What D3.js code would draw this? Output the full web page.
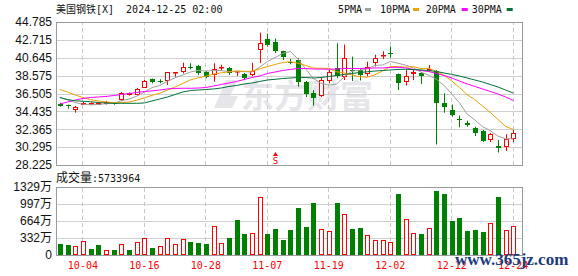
<!DOCTYPE html>
<html>
<head>
<meta charset="utf-8">
<script src="https://cdn.jsdelivr.net/npm/d3@7"></script>
<style>
  html, body { margin: 0; padding: 0; background: #fff; }
  svg { display: block; }
</style>
</head>
<body>
<div id="chart"></div>
<script>
// ---- data ----
const dates = ['10-01','10-02','10-03','10-04','10-07','10-08','10-09','10-10','10-11','10-14',
  '10-15','10-16','10-17','10-18','10-21','10-22','10-23','10-24','10-25','10-28',
  '10-29','10-30','10-31','11-01','11-04','11-05','11-06','11-07','11-08','11-11',
  '11-12','11-13','11-14','11-15','11-18','11-19','11-20','11-21','11-22','11-25',
  '11-26','11-27','11-29','12-02','12-03','12-04','12-05','12-06','12-09','12-10',
  '12-11','12-12','12-13','12-16','12-17','12-18','12-19','12-20','12-23','12-24'];

const openP = [35.29,35.17,34.59,35.23,35.31,35.23,35.29,35.41,35.72,36.33,
  36.33,37.18,38.18,37.95,37.99,38.84,39.03,39.63,39.69,39.03,
  38.65,39.43,39.49,38.99,38.80,38.65,41.60,42.82,42.47,41.43,
  40.21,40.38,37.87,36.56,36.18,37.99,39.42,38.42,39.23,39.23,
  38.80,40.00,40.81,41.25,38.76,37.87,38.71,38.91,39.31,39.11,
  35.46,34.59,33.52,33.12,32.51,32.16,31.12,30.37,30.28,31.24];
const highP = [35.44,35.23,35.06,35.52,35.49,35.49,35.64,35.52,36.68,36.62,
  37.14,38.07,38.24,38.15,38.99,38.99,40.07,40.00,39.81,39.11,
  40.00,39.84,39.57,39.11,38.88,40.07,43.55,43.43,42.87,41.46,
  40.50,40.58,37.95,36.91,38.30,39.23,42.32,42.18,40.77,39.34,
  40.19,41.00,41.39,41.95,38.82,39.28,39.23,38.99,39.80,39.23,
  36.53,35.23,33.96,33.36,32.66,32.28,31.93,31.12,31.78,32.28];
const lowP = [34.98,34.75,34.28,35.17,35.23,35.17,35.23,35.21,35.64,36.27,
  36.27,37.14,37.68,37.68,37.49,38.45,38.84,39.31,38.65,38.27,
  37.87,39.15,38.65,38.53,38.07,38.53,40.04,41.93,41.20,40.38,
  39.89,37.29,36.10,35.09,36.10,37.68,38.27,38.07,37.95,38.01,
  38.50,39.63,40.50,40.67,36.91,37.43,38.07,37.60,38.99,30.60,
  34.28,33.82,32.59,32.66,31.58,30.89,30.89,29.67,29.85,30.89];
const closeP = [35.06,35.12,34.98,35.35,35.41,35.35,35.56,35.29,36.62,36.51,
  36.97,37.95,37.89,37.92,38.94,38.99,39.54,39.57,38.91,38.45,
  39.34,39.52,38.91,39.11,38.33,39.08,42.35,42.12,41.45,40.77,
  40.15,37.87,36.41,35.93,38.07,39.03,38.53,40.62,39.17,38.68,
  39.63,40.62,40.93,41.20,37.72,38.53,38.96,38.53,39.34,35.37,
  34.98,33.98,33.44,32.83,31.97,31.06,31.76,30.25,31.24,31.93];

// volume in 万 shares, and its colour (1 = red / up, 0 = green / down)
const volume = [214,194,169,272,117,194,91,97,207,97,
  253,324,136,169,324,214,305,253,233,214,
  558,227,330,681,408,421,1141,408,506,292,
  486,914,545,1011,499,460,1011,797,506,525,
  382,285,285,253,1186,694,428,408,519,1245,
  1186,661,720,467,486,447,622,1128,480,573];
const volUp = [0,0,1,1,0,0,1,0,1,0,
  1,1,0,1,1,1,1,0,0,0,
  1,1,0,0,0,1,1,0,0,0,
  0,0,0,0,1,1,0,1,0,0,
  1,1,1,1,0,1,1,0,1,0,
  0,0,0,0,0,0,1,0,1,1];

const ma5 = [36.04,35.75,35.46,35.26,35.19,35.24,35.32,35.39,35.65,35.87,
  36.19,36.67,37.19,37.44,37.93,38.33,38.66,38.99,39.19,39.10,
  39.17,39.16,39.03,39.07,39.04,38.99,39.56,40.20,40.66,41.15,
  41.37,40.48,39.33,38.23,37.69,37.47,37.59,38.44,39.09,39.20,
  39.33,39.75,39.81,40.21,40.01,39.79,39.47,38.98,38.61,38.15,
  37.43,36.43,35.42,34.12,33.44,32.66,32.21,31.57,31.26,31.25];
const ma10 = [36.97,36.68,36.33,36.04,35.81,35.64,35.52,35.44,35.44,35.52,
  35.72,36.00,36.29,36.54,36.90,37.26,37.66,38.09,38.32,38.51,
  38.75,38.90,39.01,39.13,39.07,39.08,39.35,39.61,39.86,40.10,
  40.18,40.01,39.76,39.45,39.42,39.41,39.03,38.88,38.66,38.45,
  38.39,38.67,39.12,39.64,39.61,39.56,39.61,39.40,39.41,39.09,
  38.61,37.95,37.20,36.37,35.79,35.05,34.33,33.50,32.68,32.35];
const ma20 = [35.29,35.52,35.75,35.93,36.04,36.10,36.16,36.27,36.39,36.51,
  36.62,36.74,36.80,36.91,37.03,37.09,37.11,37.11,37.14,37.20,
  37.37,37.55,37.72,37.90,38.13,38.36,38.53,38.82,39.00,39.17,
  39.29,39.40,39.40,39.34,39.34,39.31,39.34,39.40,39.40,39.40,
  39.42,39.46,39.46,39.52,39.54,39.46,39.29,39.17,39.05,38.82,
  38.59,38.30,37.95,37.61,37.32,37.03,36.74,36.45,36.10,35.70];
const ma30 = [36.04,35.81,35.66,35.61,35.55,35.46,35.41,35.37,35.37,35.37,
  35.37,35.41,35.64,35.87,36.10,36.39,36.68,36.85,36.91,36.97,
  37.03,37.14,37.32,37.43,37.61,37.72,37.90,38.07,38.15,38.24,
  38.30,38.36,38.36,38.30,38.36,38.47,38.59,38.71,38.82,38.94,
  39.02,39.11,39.17,39.23,39.29,39.31,39.29,39.23,39.17,39.05,
  38.88,38.71,38.53,38.30,38.07,37.84,37.55,37.26,36.91,36.56];

const priceTicks = [44.785, 42.715, 40.645, 38.575, 36.505, 34.435, 32.365, 30.295, 28.225];
const volTicks = [0, 332, 664, 997, 1329];
const dateTicks = ['10-04','10-16','10-28','11-07','11-19','12-02','12-12','12-24'];
const maNames = ['5PMA', '10PMA', '20PMA', '30PMA'];
const maColors = ['#a0a0a0', '#f0a000', '#ff00ff', '#00703c'];
const signalDate = '11-08';

// ---- layout ----
const width = 578, height = 276;
const left = 56, right = 522;
const pTop = 22, pBottom = 165;
const vTop = 187, vBottom = 255;
const RED = '#ff0000', GREEN = '#008000';
const monoFont = '"DejaVu Sans Mono", monospace';
const cjkFont = '"Noto Sans CJK SC", sans-serif';

const svg = d3.select('#chart').append('svg')
  .attr('width', width)
  .attr('height', height);

const x = d3.scaleBand()
  .domain(dates)
  .range([left, 517.1])
  .padding(0);
const cx = d => Math.round(x(d) + x.bandwidth() / 2);

const y = d3.scaleLinear()
  .domain([priceTicks[priceTicks.length - 1], priceTicks[0]])
  .range([pBottom, pTop]);

const yv = d3.scaleLinear()
  .domain([0, volTicks[volTicks.length - 1]])
  .range([vBottom, vTop]);

// watermark
const wm = svg.append('g').attr('fill', '#e6e6ea');
wm.append('path')
  .attr('d', 'M214,108 L226,80 L238,80 L230,96 L238,96 L232,108 Z');
wm.append('text')
  .attr('x', 241).attr('y', 108)
  .attr('font-family', cjkFont)
  .attr('font-size', 33)
  .attr('font-weight', 'bold')
  .text('东方财富');

// gridlines
function hGrid(scale, ticks, top, bottom) {
  svg.append('g')
    .attr('transform', `translate(${left},0)`)
    .call(d3.axisLeft(scale).tickValues(ticks).tickSize(-(right - left)).tickFormat(''))
    .call(g => g.select('.domain').remove())
    .call(g => g.selectAll('line').attr('stroke', '#cfcfcf').attr('shape-rendering', 'crispEdges'));
  svg.append('g')
    .attr('transform', `translate(0,${bottom})`)
    .call(d3.axisBottom(x).tickValues(dateTicks).tickSize(-(bottom - top)).tickFormat(''))
    .call(g => g.select('.domain').remove())
    .call(g => g.selectAll('line')
      .attr('stroke', '#c8c8c8')
      .attr('stroke-dasharray', '4,3')
      .attr('shape-rendering', 'crispEdges'));
}
hGrid(y, priceTicks, pTop, pBottom);
hGrid(yv, volTicks, vTop, vBottom);

// panel borders
[[pTop, pBottom], [vTop, vBottom]].forEach(([t, b]) => {
  svg.append('rect')
    .attr('x', left + 0.5).attr('y', t + 0.5)
    .attr('width', right - left).attr('height', b - t)
    .attr('fill', 'none')
    .attr('stroke', '#9a9a9a');
});

// axis labels
svg.append('g')
  .attr('transform', `translate(${left},0)`)
  .call(d3.axisLeft(y).tickValues(priceTicks).tickSize(0).tickPadding(4).tickFormat(d3.format('.3f')))
  .call(g => g.select('.domain').remove())
  .call(g => g.selectAll('text')
    .attr('font-family', '"Liberation Sans", Arial, sans-serif')
    .attr('font-size', 12)
    .attr('fill', '#111'));

svg.append('g')
  .attr('transform', `translate(${left},0)`)
  .call(d3.axisLeft(yv).tickValues(volTicks).tickSize(0).tickPadding(4)
    .tickFormat(d => d === 0 ? '0' : d + '万'))
  .call(g => g.select('.domain').remove())
  .call(g => g.selectAll('text')
    .attr('font-family', '"Liberation Sans", Arial, "Noto Sans CJK SC", sans-serif')
    .attr('font-size', 12)
    .attr('fill', '#111'));

svg.append('g')
  .attr('transform', `translate(0,${vBottom})`)
  .call(d3.axisBottom(x).tickValues(dateTicks).tickSize(0).tickPadding(7))
  .call(g => g.select('.domain').remove())
  .call(g => g.selectAll('text')
    .attr('font-family', monoFont)
    .attr('font-size', 10)
    .attr('fill', RED));

// candles
const candles = svg.append('g');
dates.forEach((d, i) => {
  const o = openP[i], c = closeP[i];
  const up = c >= o;
  const col = up ? RED : GREEN;
  const xc = cx(d);
  candles.append('line')
    .attr('x1', xc + 0.5).attr('x2', xc + 0.5)
    .attr('y1', y(highP[i])).attr('y2', y(lowP[i]))
    .attr('stroke', col);
  const top = Math.round(y(Math.max(o, c)));
  const h = Math.max(1, Math.round(y(Math.min(o, c))) - top);
  if (up) {
    candles.append('rect')
      .attr('x', xc - 1.5).attr('y', top + 0.5)
      .attr('width', 4).attr('height', Math.max(h - 1, 0.5))
      .attr('fill', '#fff').attr('stroke', col);
  } else {
    candles.append('rect')
      .attr('x', xc - 2).attr('y', top)
      .attr('width', 5).attr('height', h)
      .attr('fill', col);
  }
});

// moving averages
const maLine = d3.line()
  .x((v, i) => x(dates[i]) + x.bandwidth() / 2)
  .y(v => y(v));
[ma5, ma10, ma20, ma30].forEach((ser, k) => {
  svg.append('path')
    .datum(ser)
    .attr('fill', 'none')
    .attr('stroke', maColors[k])
    .attr('stroke-width', 1)
    .attr('d', maLine);
});

// volume bars
const bars = svg.append('g');
dates.forEach((d, i) => {
  const xc = cx(d);
  const top = Math.round(yv(volume[i]));
  if (volUp[i]) {
    bars.append('rect')
      .attr('x', xc - 1.5).attr('y', top + 0.5)
      .attr('width', 4).attr('height', vBottom - top - 1)
      .attr('fill', '#fff').attr('stroke', RED);
  } else {
    bars.append('rect')
      .attr('x', xc - 2).attr('y', top)
      .attr('width', 5).attr('height', vBottom - top)
      .attr('fill', GREEN);
  }
});

// signal marker
const sx = cx(signalDate) + 0.5;
svg.append('path')
  .attr('d', `M${sx},152 L${sx - 2.5},156 L${sx + 2.5},156 Z`)
  .attr('fill', RED);
svg.append('text')
  .attr('x', sx).attr('y', 164)
  .attr('text-anchor', 'middle')
  .attr('font-family', monoFont)
  .attr('font-size', 9)
  .attr('fill', RED)
  .text('S');

// title
const title = svg.append('text').attr('x', 56).attr('y', 13).attr('fill', '#111');
title.append('tspan').attr('font-family', cjkFont).attr('font-size', 10).text('美国钢铁');
title.append('tspan').attr('font-family', monoFont).attr('font-size', 10)
  .attr('xml:space', 'preserve').text('[X]  2024-12-25 02:00');

// legend
const legendText = [338, 380, 425.7, 471.7];
const legendSwatch = [365, 413, 461.7, 506.7];
maNames.forEach((n, k) => {
  svg.append('text')
    .attr('x', legendText[k]).attr('y', 13)
    .attr('font-family', monoFont)
    .attr('font-size', 10)
    .attr('fill', '#111')
    .text(n);
  svg.append('rect')
    .attr('x', legendSwatch[k]).attr('y', 8)
    .attr('width', 6).attr('height', 3)
    .attr('fill', maColors[k]);
});

// volume label
const vl = svg.append('text').attr('x', 56).attr('y', 182).attr('fill', '#111');
vl.append('tspan').attr('font-family', cjkFont).attr('font-size', 12).text('成交量');
vl.append('tspan').attr('font-family', monoFont).attr('font-size', 10).text(':' + 5733964);

// site watermark (drawn over the last date labels, as in the reference)
svg.append('text')
  .attr('x', 455).attr('y', 264.5)
  .attr('font-family', '"Liberation Serif", serif')
  .attr('font-weight', 'bold')
  .attr('font-size', 17)
  .attr('fill', '#1c3c7c')
  .text('www.365jz.com');
</script>
</body>
</html>
